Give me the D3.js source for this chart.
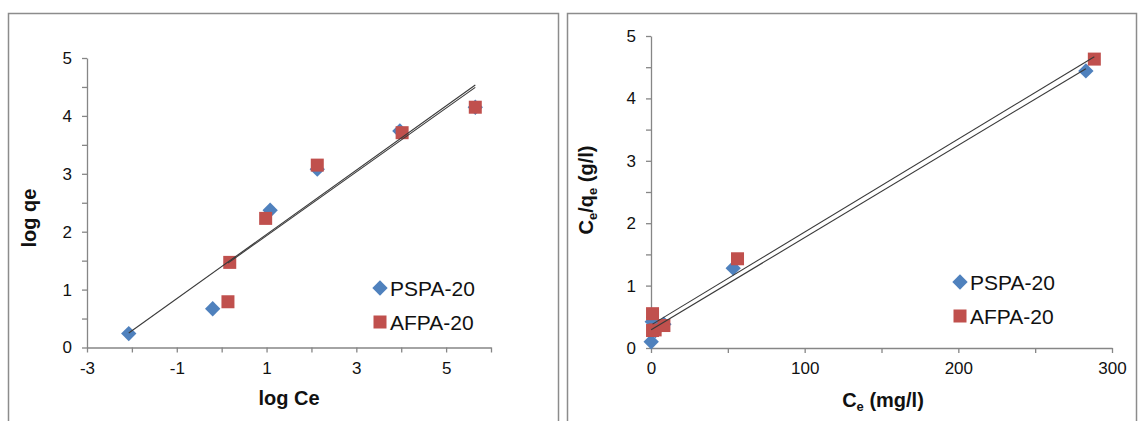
<!DOCTYPE html>
<html>
<head>
<meta charset="utf-8">
<script src="https://cdn.jsdelivr.net/npm/d3@7"></script>
<style>
  body { margin: 0; background: #fff; }
  text { font-family: "Liberation Sans", Arial, sans-serif; }
</style>
</head>
<body>
<div id="main"></div>
<script>
const ctx = {
    WIDTH: 1144,
    HEIGHT: 421,
};

// Freundlich plot (left panel)
const pspaLogCe = [-2.07, -0.20, 1.08, 2.13, 3.97, 5.65];
const pspaLogQe = [0.24, 0.67, 2.37, 3.08, 3.74, 4.15];
const afpaLogCe = [0.14, 0.18, 0.98, 2.13, 4.02, 5.65];
const afpaLogQe = [0.79, 1.47, 2.23, 3.15, 3.71, 4.15];

// Langmuir plot (right panel)
const pspaCe = [0.13, 0.8, 2.9, 8.4, 53.5, 283];
const pspaCeQe = [0.10, 0.42, 0.28, 0.38, 1.28, 4.44];
const afpaCe = [1.0, 1.0, 2.7, 8.4, 56.3, 288.5];
const afpaCeQe = [0.55, 0.28, 0.29, 0.36, 1.43, 4.63];

const seriesNames = ["PSPA-20", "AFPA-20"];
const leftXTicks = [-3, -2, -1, 0, 1, 2, 3, 4, 5, 6];
const leftXLabels = [-3, -1, 1, 3, 5];
const rightXTicks = [0, 50, 100, 150, 200, 250, 300];
const rightXLabels = [0, 100, 200, 300];
const yTicks = [0, 0.5, 1, 1.5, 2, 2.5, 3, 3.5, 4, 4.5, 5];
const yLabels = [0, 1, 2, 3, 4, 5];

const BLUE = "#4f81bd";
const RED = "#c0504d";
const AXIS = "#868686";
const SQ = 13;

function fitLine(xs, ys){
    const mx = d3.mean(xs), my = d3.mean(ys);
    let sxy = 0, sxx = 0;
    xs.forEach((x, i) => { sxy += (x - mx) * (ys[i] - my); sxx += (x - mx) ** 2; });
    const slope = sxy / sxx;
    const icpt = my - slope * mx;
    const ext = d3.extent(xs);
    return ext.map(x => ({x: x, y: icpt + slope * x}));
}

function drawPanel(svg, cfg){
    svg.append("rect")
       .attr("x", cfg.frame[0]).attr("y", cfg.frame[1])
       .attr("width", cfg.frame[2]).attr("height", cfg.frame[3])
       .attr("fill", "none").attr("stroke", "#8c8c8c").attr("stroke-width", 1.5);

    const x = d3.scaleLinear().domain(cfg.xDomain).range(cfg.xRange);
    const y = d3.scaleLinear().domain([0, 5]).range(cfg.yRange);
    const g = svg.append("g");

    // axes
    const xAxis = g.append("g").attr("transform", `translate(0,${cfg.yRange[0]})`)
        .call(d3.axisBottom(x).tickValues(cfg.xTicks).tickSize(5).tickSizeOuter(0)
              .tickFormat(d => cfg.xLabels.includes(d) ? d : ""));
    const yAxis = g.append("g").attr("transform", `translate(${cfg.xRange[0]},0)`)
        .call(d3.axisLeft(y).tickValues(yTicks).tickSize(5).tickSizeOuter(0)
              .tickFormat(d => yLabels.includes(d) ? d : ""));
    [xAxis, yAxis].forEach(a => {
        a.select(".domain").attr("stroke", AXIS).attr("stroke-width", 1.3);
        a.selectAll(".tick line").attr("stroke", AXIS).attr("stroke-width", 1.3);
        a.selectAll(".tick text").attr("font-size", 17).attr("fill", "#111")
         .attr("font-family", "Liberation Sans, Arial, sans-serif");
    });
    xAxis.selectAll(".tick text").attr("y", 14);
    yAxis.selectAll(".tick text").attr("x", -15);

    // markers
    const diamond = d3.symbol().type(d3.symbolDiamond2).size(150);
    g.append("g").selectAll("path")
        .data(cfg.blueX.map((v, i) => ({x: v, y: cfg.blueY[i]})))
        .join("path")
        .attr("d", diamond)
        .attr("transform", d => `translate(${x(d.x)},${y(d.y)})`)
        .attr("fill", BLUE);
    g.append("g").selectAll("rect")
        .data(cfg.redX.map((v, i) => ({x: v, y: cfg.redY[i]})))
        .join("rect")
        .attr("x", d => x(d.x) - SQ / 2).attr("y", d => y(d.y) - SQ / 2)
        .attr("width", SQ).attr("height", SQ)
        .attr("fill", RED);

    // linear trendlines
    const line = d3.line().x(d => x(d.x)).y(d => y(d.y));
    [fitLine(cfg.blueX, cfg.blueY), fitLine(cfg.redX, cfg.redY)].forEach(pts => {
        g.append("path").attr("d", line(pts))
         .attr("fill", "none").attr("stroke", "#3a3a3a").attr("stroke-width", 1.1);
    });

    // legend
    const lg = g.append("g");
    lg.append("path").attr("d", diamond)
      .attr("transform", `translate(${cfg.legend[0]},${cfg.legend[1]})`).attr("fill", BLUE);
    lg.append("rect").attr("x", cfg.legend[0] - SQ / 2).attr("y", cfg.legend[1] + 34 - SQ / 2)
      .attr("width", SQ).attr("height", SQ).attr("fill", RED);
    seriesNames.forEach((s, i) => {
        lg.append("text").attr("x", cfg.legend[0] + 10).attr("y", cfg.legend[1] + 7.5 + i * 34)
          .attr("font-size", 21).attr("fill", "#111").text(s);
    });

    // axis titles
    const xt = g.append("text").attr("x", cfg.xTitle[0]).attr("y", cfg.xTitle[1])
        .attr("text-anchor", "middle").attr("font-size", 20).attr("font-weight", "bold").attr("fill", "#111");
    cfg.xTitleParts.forEach(p => xt.append("tspan").attr("font-size", p[1] ? 13 : 20)
        .attr("dy", p[2] || 0).text(p[0]));
    const yt = g.append("text")
        .attr("transform", `translate(${cfg.yTitle[0]},${cfg.yTitle[1]}) rotate(-90)`)
        .attr("text-anchor", "middle").attr("font-size", 20).attr("font-weight", "bold").attr("fill", "#111");
    cfg.yTitleParts.forEach(p => yt.append("tspan").attr("font-size", p[1] ? 13 : 20)
        .attr("dy", p[2] || 0).text(p[0]));
}

function createViz(){
    const svg = d3.select("#main").append("svg")
        .attr("width", ctx.WIDTH).attr("height", ctx.HEIGHT);

    drawPanel(svg, {
        frame: [8.5, 13.5, 550, 430],
        xDomain: [-3, 6], xRange: [87, 491], yRange: [347.5, 58],
        xTicks: leftXTicks, xLabels: leftXLabels,
        blueX: pspaLogCe, blueY: pspaLogQe, redX: afpaLogCe, redY: afpaLogQe,
        legend: [380, 288],
        xTitle: [289, 405], xTitleParts: [["log Ce"]],
        yTitle: [36, 218], yTitleParts: [["log qe"]],
    });

    drawPanel(svg, {
        frame: [567.5, 13.5, 569, 430],
        xDomain: [0, 300], xRange: [651, 1112], yRange: [348, 36],
        xTicks: rightXTicks, xLabels: rightXLabels,
        blueX: pspaCe, blueY: pspaCeQe, redX: afpaCe, redY: afpaCeQe,
        legend: [960, 282],
        xTitle: [883, 407], xTitleParts: [["C"], ["e", true, 4], [" (mg/l)", false, -4]],
        yTitle: [593, 190], yTitleParts: [["C"], ["e", true, 4], ["/q", false, -4], ["e", true, 4], [" (g/l)", false, -4]],
    });
}

createViz();
</script>
</body>
</html>
